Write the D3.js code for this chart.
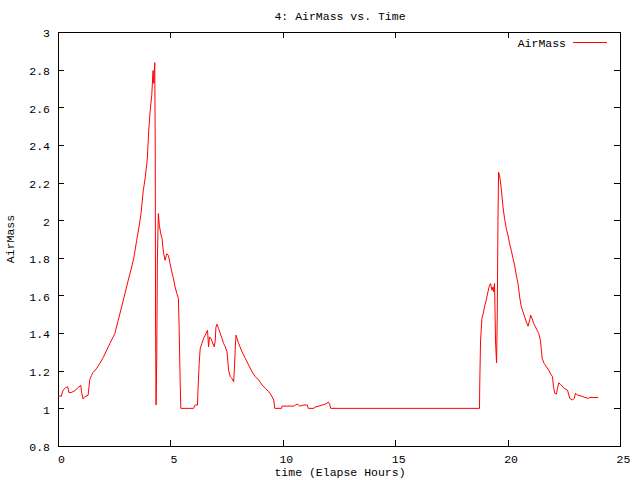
<!DOCTYPE html>
<html><head><meta charset="utf-8">
<script src="https://cdn.jsdelivr.net/npm/d3@7"></script>
<style>body{margin:0;background:#fff}svg{display:block}text{font-family:"Liberation Mono","DejaVu Sans Mono",monospace;font-size:11.5px;fill:#000}</style>
</head><body>
<script>
const chartTitle = "4: AirMass vs. Time";
const xLabel = "time (Elapse Hours)";
const yLabel = "AirMass";
const seriesName = "AirMass";
const xTicks = [0,5,10,15,20,25];
const yTicks = [0.8,1,1.2,1.4,1.6,1.8,2,2.2,2.4,2.6,2.8,3];
const hours = [0,0.15,0.196,0.254,0.34,0.433,0.49,0.61,0.79,0.88,1.013,1.058,1.116,1.19,1.34,1.415,1.49,1.5625,1.705,1.86,2.01,2.308,2.531,2.679,2.83,2.978,3.125,3.277,3.379,3.5,3.603,3.692,3.795,3.884,3.973,4.036,4.107,4.17,4.228,4.259,4.304,4.326,4.339,4.362,4.393,4.42,4.464,4.509,4.571,4.629,4.688,4.763,4.839,4.911,4.987,5.063,5.134,5.21,5.286,5.357,5.388,5.433,5.464,6.027,6.103,6.205,6.223,6.281,6.326,6.402,6.473,6.549,6.652,6.696,6.741,6.804,6.862,6.951,6.996,7.027,7.071,7.143,7.219,7.295,7.366,7.442,7.518,7.589,7.665,7.741,7.813,7.844,7.888,7.92,7.964,8.036,8.188,8.335,8.482,8.634,8.781,8.929,9.08,9.228,9.375,9.482,9.598,9.643,9.942,9.964,10.491,10.567,10.643,10.759,10.938,11.089,11.134,11.384,11.429,11.607,11.759,11.906,12.027,12.085,12.13,18.75,18.76,18.795,18.857,18.915,18.973,19.049,19.125,19.196,19.241,19.304,19.348,19.375,19.42,19.464,19.509,19.54,19.571,19.598,19.643,19.674,19.719,19.795,19.866,19.942,20.018,20.089,20.165,20.241,20.313,20.388,20.464,20.536,20.612,20.688,20.759,20.835,20.911,21.0,21.027,21.089,21.161,21.237,21.313,21.384,21.46,21.504,21.536,21.625,21.728,21.83,21.92,21.996,22.04,22.098,22.174,22.219,22.277,22.353,22.429,22.518,22.665,22.723,22.768,22.888,22.964,23.022,23.112,23.29,23.438,23.589,23.661,24.036];
const airMass = [1.065,1.065,1.087,1.10,1.11,1.115,1.083,1.085,1.097,1.11,1.122,1.08,1.05,1.062,1.07,1.154,1.175,1.191,1.21,1.239,1.27,1.345,1.398,1.468,1.539,1.61,1.681,1.751,1.804,1.893,1.963,2.034,2.158,2.229,2.326,2.476,2.592,2.662,2.795,2.727,2.837,2.382,1.479,1.018,1.274,1.787,2.035,1.972,1.928,1.902,1.831,1.787,1.822,1.813,1.769,1.725,1.69,1.645,1.61,1.584,1.433,1.15,1.0,1.0,1.018,1.018,1.088,1.239,1.318,1.345,1.371,1.389,1.415,1.327,1.38,1.371,1.353,1.327,1.362,1.433,1.447,1.424,1.398,1.371,1.345,1.327,1.30,1.203,1.168,1.159,1.141,1.203,1.327,1.389,1.371,1.345,1.30,1.265,1.23,1.194,1.168,1.15,1.124,1.106,1.088,1.071,1.044,1.0,1.0,1.012,1.012,1.018,1.023,1.012,1.018,1.018,1.0,1.0,1.007,1.012,1.018,1.023,1.033,1.023,1.0,1.0,1.118,1.353,1.477,1.504,1.539,1.575,1.619,1.654,1.663,1.628,1.645,1.619,1.663,1.353,1.242,1.495,2.0,2.255,2.238,2.211,2.167,2.07,2.008,1.955,1.919,1.875,1.84,1.796,1.76,1.707,1.663,1.592,1.539,1.512,1.486,1.459,1.437,1.477,1.495,1.477,1.451,1.433,1.415,1.398,1.362,1.309,1.265,1.239,1.221,1.203,1.182,1.168,1.115,1.08,1.076,1.106,1.136,1.127,1.118,1.106,1.097,1.071,1.053,1.044,1.053,1.08,1.071,1.065,1.058,1.053,1.058,1.058];

const W = 640, H = 480;
const L = 58, R = 620, T = 32, B = 446;
const svg = d3.select("body").append("svg").attr("width", W).attr("height", H);
const x = d3.scaleLinear().domain([0, 25]).range([L, R]);
const y = d3.scaleLinear().domain([0.8, 3]).range([B, T]);
const tl = 6;

// axes (inward ticks, labels)
const gx = svg.append("g").attr("transform", `translate(0,${B})`)
  .call(d3.axisBottom(x).tickValues(xTicks).tickSize(-tl).tickPadding(9).tickFormat(d3.format("d")));
const gxt = svg.append("g").attr("transform", `translate(0,${T})`)
  .call(d3.axisTop(x).tickValues(xTicks).tickSize(-tl).tickFormat(""));
const gy = svg.append("g").attr("transform", `translate(${L},0)`)
  .call(d3.axisLeft(y).tickValues(yTicks).tickSize(-tl).tickPadding(8).tickFormat(d => String(+d.toFixed(1))));
const gyr = svg.append("g").attr("transform", `translate(${R},0)`)
  .call(d3.axisRight(y).tickValues(yTicks).tickSize(-tl).tickFormat(""));
[gx, gxt, gy, gyr].forEach(g => {
  g.select(".domain").remove();
  g.selectAll("line").attr("stroke", "#000").attr("shape-rendering", "crispEdges");
  g.selectAll("text").attr("font-family", null).attr("font-size", null).style("fill", "#000");
});
gx.selectAll("text").attr("dy", "0.71em").attr("dx", 3);
gy.selectAll("text").attr("dy", "0.42em");

svg.append("rect").attr("x", L).attr("y", T).attr("width", R - L).attr("height", B - T)
  .attr("fill", "none").attr("stroke", "#000").attr("shape-rendering", "crispEdges");

// data line
const pts = hours.map((h, i) => [h, airMass[i]]);
svg.append("path").datum(pts)
  .attr("fill", "none").attr("stroke", "#ff0000").attr("stroke-width", 1)
  .attr("d", d3.line().x(d => x(d[0])).y(d => y(d[1])));

// titles
svg.append("text").attr("x", 340).attr("y", 20).attr("text-anchor", "middle").text(chartTitle);
svg.append("text").attr("x", 340).attr("y", 476).attr("text-anchor", "middle").text(xLabel);
svg.append("text").attr("transform", `translate(14,${(T + B) / 2}) rotate(-90)`).attr("text-anchor", "middle").text(yLabel);

// legend
svg.append("text").attr("x", 566).attr("y", 47).attr("text-anchor", "end").text(seriesName);
svg.append("line").attr("x1", 573).attr("x2", 607).attr("y1", 42.5).attr("y2", 42.5)
  .attr("stroke", "#ff0000").attr("stroke-width", 1);
</script>
</body></html>
